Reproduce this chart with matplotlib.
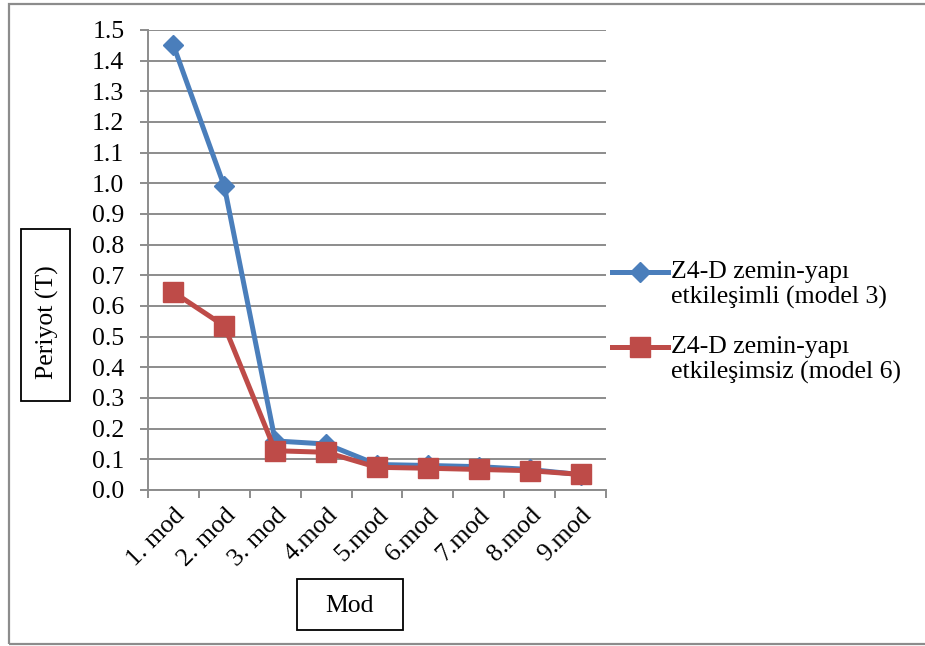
import matplotlib
matplotlib.use("Agg")
import matplotlib.pyplot as plt
from matplotlib.patches import Rectangle
from matplotlib.lines import Line2D
import numpy as np

plt.rcParams['font.family'] = ['Liberation Serif', 'DejaVu Serif']

modes = ["1. mod", "2. mod", "3. mod", "4.mod", "5.mod", "6.mod", "7.mod", "8.mod", "9.mod"]
with_ssi = [1.45, 0.99, 0.16, 0.15, 0.083, 0.08, 0.076, 0.067, 0.05]
without_ssi = [0.645, 0.535, 0.128, 0.123, 0.074, 0.071, 0.067, 0.063, 0.051]
label_with = "Z4-D zemin-yapı\netkileşimli (model 3)"
label_without = "Z4-D zemin-yapı\netkileşimsiz (model 6)"
yticks = np.round(np.arange(0, 1.51, 0.1), 1)

W, H = 925, 646
FS = 18.5
fig = plt.figure(figsize=(W / 100, H / 100), dpi=100)


def fx(px):
    return px / W


def fy(py):
    return 1 - py / H


# outer chart frame (runs off the right edge)
fig.patches.append(Rectangle((fx(9), fy(644)), fx(930 - 9), (644 - 4) / H,
                             transform=fig.transFigure, fill=False,
                             edgecolor="#8c8c8c", linewidth=1.6))

ax = fig.add_axes([fx(148), fy(490), (606 - 148) / W, (490 - 30) / H])
x = np.arange(len(modes))
blue = "#4a7ebb"
red = "#be4b48"
LW = 3.6
ax.plot(x, with_ssi, color=blue, linewidth=LW, marker="D", markersize=10,
        markeredgecolor=blue, zorder=3, clip_on=False)
ax.plot(x, without_ssi, color=red, linewidth=LW, marker="s", markersize=14,
        markeredgecolor=red, zorder=4, clip_on=False)

ax.set_xlim(-0.5, len(modes) - 0.5)
ax.set_ylim(0, 1.5)
ax.set_yticks(yticks)
ax.set_yticklabels([f"{v:.1f}" for v in yticks], fontsize=FS)
ax.yaxis.grid(True, color="#8c8c8c", linewidth=1.4)
ax.set_axisbelow(True)
ax.set_xticks(np.arange(-0.5, len(modes), 1.0))
ax.set_xticklabels([])
ax.set_xticks(x, minor=True)
ax.set_xticklabels(modes, minor=True, rotation=45, ha="right",
                   rotation_mode="anchor", fontsize=FS)
ax.tick_params(axis="x", which="minor", length=0, pad=10)
ax.tick_params(axis="x", which="major", length=6, color="#8c8c8c", width=1.4)
ax.tick_params(axis="y", length=6, color="#8c8c8c", width=1.4, pad=11)
for s in ("top", "right"):
    ax.spines[s].set_visible(False)
for s in ("left", "bottom"):
    ax.spines[s].set_color("#8c8c8c")
    ax.spines[s].set_linewidth(1.4)

# axis titles in boxes
fig.patches.append(Rectangle((fx(21), fy(401)), 49 / W, (401 - 229) / H,
                             transform=fig.transFigure, fill=False,
                             edgecolor="black", linewidth=1.3))
fig.text(fx(47), fy(322), "Periyot (T)", rotation=90, ha="center",
         va="center", fontsize=FS)
fig.patches.append(Rectangle((fx(297), fy(630)), (403 - 297) / W, 51 / H,
                             transform=fig.transFigure, fill=False,
                             edgecolor="black", linewidth=1.3))
fig.text(fx(350), fy(606), "Mod", ha="center", va="center", fontsize=FS)

# legend entries: handle aligned with the first text line
entries = [
    (label_with, blue, "D", 10, 272),
    (label_without, red, "s", 14, 347),
]
for text, color, marker, ms, ypx in entries:
    fig.add_artist(Line2D([fx(612), fx(668)], [fy(ypx), fy(ypx)],
                          color=color, linewidth=LW,
                          transform=fig.transFigure))
    fig.add_artist(Line2D([fx(640)], [fy(ypx)], color=color, marker=marker,
                          markersize=ms, markeredgecolor=color,
                          transform=fig.transFigure))
    fig.text(fx(671), fy(ypx - 11), text, ha="left", va="top", fontsize=FS,
             linespacing=1.15)

fig.savefig("out.png", dpi=100)
